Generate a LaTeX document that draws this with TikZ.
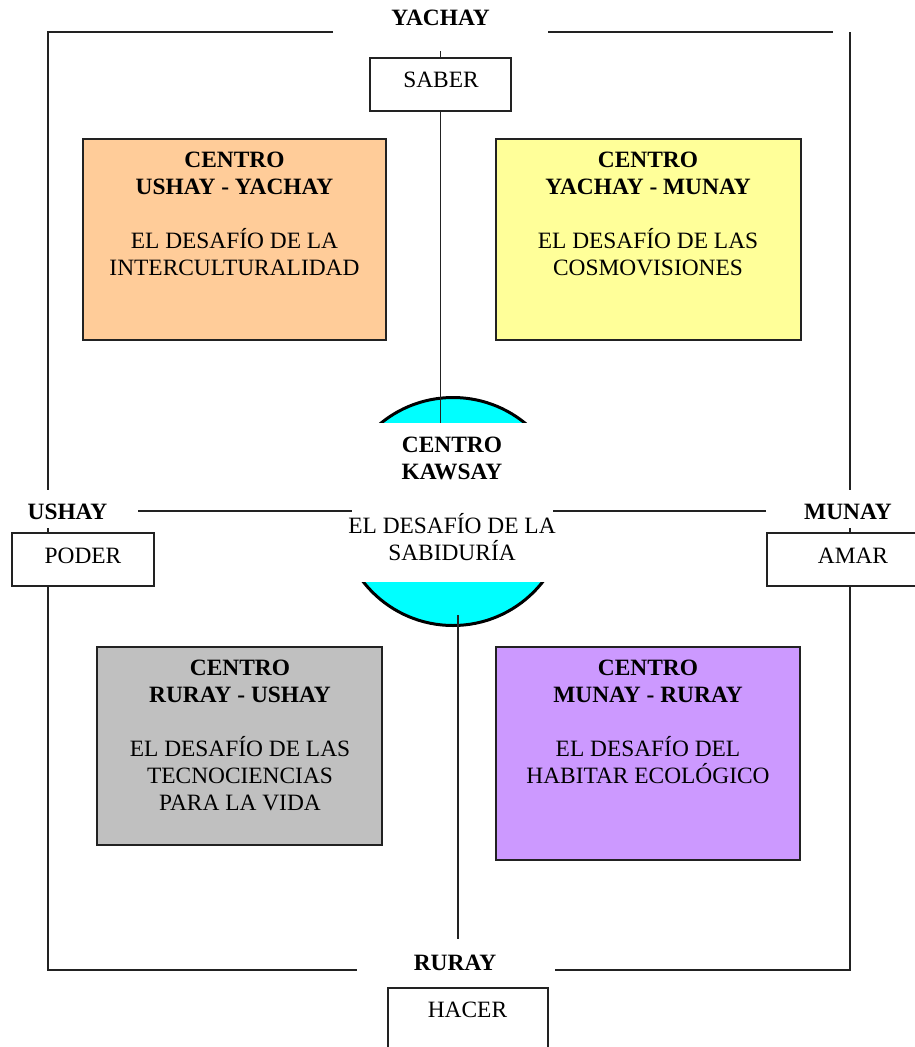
\documentclass[tikz,border=0pt]{standalone}
\usepackage{fontspec}
\setmainfont{Liberation Serif}
\definecolor{korange}{HTML}{FFCC99}
\definecolor{kyellow}{HTML}{FFFF99}
\definecolor{kgray}{HTML}{C0C0C0}
\definecolor{kpurple}{HTML}{CC99FF}
\definecolor{kcyan}{HTML}{00FFFF}
\definecolor{kline}{HTML}{222222}
\begin{document}
\begin{tikzpicture}[x=1pt,y=-1pt,
  every node/.style={font=\fontsize{23.4}{27}\selectfont, inner sep=0pt, outer sep=0pt},
  frame/.style={line width=1.3pt, draw=kline},
  cbox/.style={draw=kline, line width=1.5pt, rectangle},
  txt/.style={align=center, anchor=north},
  lbl/.style={font=\fontsize{23.4}{27}\selectfont\bfseries}
]
\useasboundingbox (0,0) rectangle (915,1047);
\clip (0,0) rectangle (915,1047);

% coloured centre boxes
\node[cbox, fill=korange, minimum width=303pt, minimum height=201pt] (ob) at (234.5,239.5) {};
\node[cbox, fill=kyellow, minimum width=305pt, minimum height=201pt] (yb) at (648.5,239.5) {};
\node[cbox, fill=kgray, minimum width=285pt, minimum height=198pt] (gb) at (239.5,746) {};
\node[cbox, fill=kpurple, minimum width=304pt, minimum height=213pt] (pb) at (648,753.5) {};

\node[txt] (ot) at (234.5,152) {\textbf{CENTRO}\\\textbf{USHAY - YACHAY}\\[27pt]EL DESAFÍO DE LA\\INTERCULTURALIDAD};
\node[txt] (yt) at (648,152) {\textbf{CENTRO}\\\textbf{YACHAY - MUNAY}\\[27pt]EL DESAFÍO DE LAS\\COSMOVISIONES};
\node[txt] (gt) at (240,660) {\textbf{CENTRO}\\\textbf{RURAY - USHAY}\\[27pt]EL DESAFÍO DE LAS\\TECNOCIENCIAS\\PARA LA VIDA};
\node[txt] (pt) at (648,660) {\textbf{CENTRO}\\\textbf{MUNAY - RURAY}\\[27pt]EL DESAFÍO DEL\\HABITAR ECOLÓGICO};

% small boxes
\node[cbox, fill=white, minimum width=141pt, minimum height=53pt] (saber) at (440.5,84.5) {};
\node[cbox, fill=white, minimum width=142pt, minimum height=53pt] (poder) at (83,559.5) {};
\node[cbox, fill=white, minimum width=170pt, minimum height=53pt] (amar) at (852,559.5) {};
\node[cbox, fill=white, minimum width=160pt, minimum height=82pt] (hacer) at (468,1029) {};
\node (sabert) at (441,80) {SABER};
\node (podert) at (83,556) {PODER};
\node (amart) at (853,556) {AMAR};
\node (hacert) at (467.5,1010) {HACER};

% labels
\node[lbl] (yachay) at (440.5,18) {YACHAY};
\node[lbl] (ushay) at (67.5,512) {USHAY};
\node[lbl] (munay) at (848,512) {MUNAY};
\node[lbl] (ruray) at (455,963) {RURAY};

% central circle
\node[circle, draw=black, fill=kcyan, line width=3pt, minimum size=228pt] (kc) at (453,511.5) {};
\node[fill=white, minimum width=250pt, minimum height=159pt] (band) at (453,502.5) {};
\node[txt] (kt) at (452,437) {\textbf{CENTRO}\\\textbf{KAWSAY}\\[27pt]EL DESAFÍO DE LA\\SABIDURÍA};

% coordinates
\coordinate (yL) at (333,32);
\coordinate (yR) at (548,32);
\coordinate (tl) at (48,32);
\coordinate (tr) at (833,32);
\coordinate (tr2) at (850,32);
\coordinate (uE) at (48,490);
\coordinate (mE) at (850,490);
\coordinate (bl) at (48,970);
\coordinate (br) at (850,970);
\coordinate (rL) at (357,970);
\coordinate (rR) at (555,970);
\coordinate (hL) at (138,511);
\coordinate (hL2) at (352,511);
\coordinate (hR) at (766,511);
\coordinate (hR2) at (553,511);
\coordinate (vb1) at (458,615);
\coordinate (vb2) at (458,939);

% frame and axes
\draw[frame] (yL) -- (tl) -- (uE);
\draw[frame] (yR) -- (tr);
\draw[frame] (tr2) -- (mE);
\draw[frame] (hL) -- (hL2);
\draw[frame] (hR) -- (hR2);
\draw[frame] (poder.south -| bl) -- (bl) -- (rL);
\draw[frame] (rR) -- (br) -- (br |- amar.south);
\draw[frame] (saber.south) -- (saber.south |- band.north);
\draw[frame] (vb1) -- (vb2);
\draw[frame] (saber.north) -- ++(0,-7);
\draw[frame] (poder.north -| bl) -- ++(0,-5);
\draw[frame] (amar.north -| br) -- ++(0,-5);
\end{tikzpicture}
\end{document}
